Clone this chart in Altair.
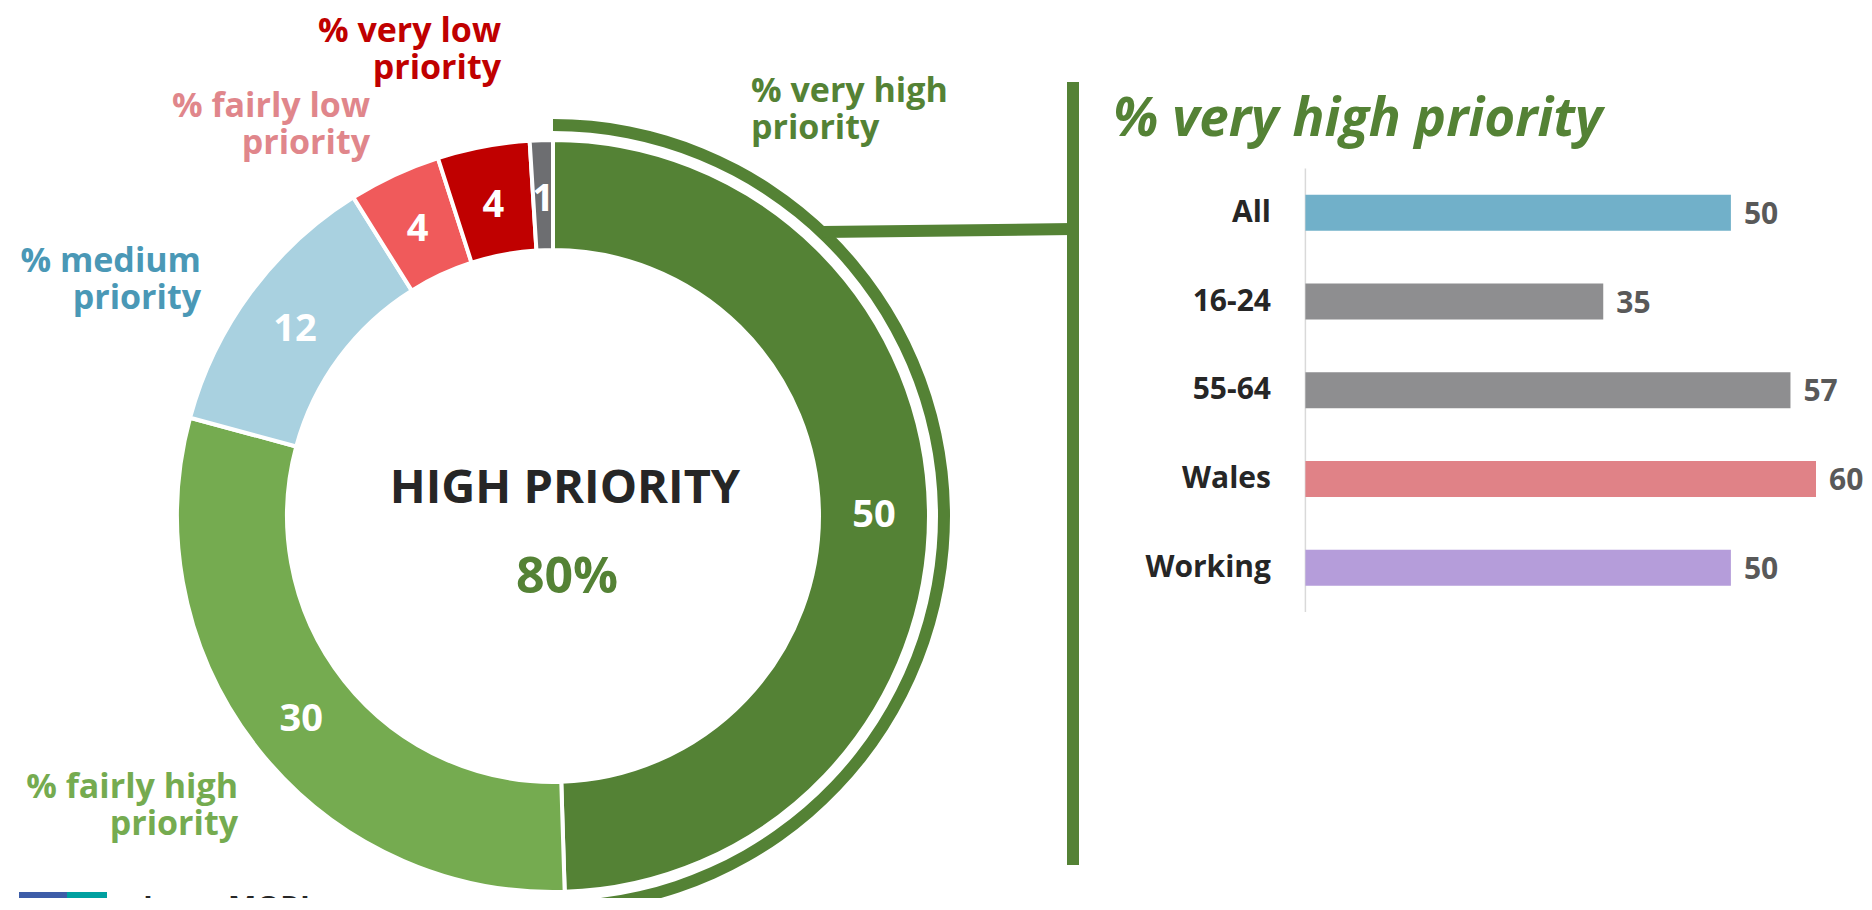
import altair as alt
import pandas as pd

FONT = "Open Sans"

# ---- donut data (clockwise from 12 o'clock) ----
seg_names = ["very high", "fairly high", "medium", "fairly low", "very low", "don't know"]
seg_values = [50, 30, 12, 4, 4, 1]
seg_colors = ["#548235", "#75AB50", "#A9D1E0", "#F05A5B", "#C00000", "#6D6E71"]
seg_highlight = ["#548235", "transparent", "transparent", "transparent", "transparent", "transparent"]

# ---- bar data ----
bar_groups = ["All", "16-24", "55-64", "Wales", "Working"]
bar_values = [50, 35, 57, 60, 50]
bar_colors = ["#71B0C9", "#8E8E90", "#8E8E90", "#E08287", "#B59DDA"]

# ---- texts ----
label_very_low = ["% very low", "priority"]
label_fairly_low = ["% fairly low", "priority"]
label_very_high = ["% very high", "priority"]
label_medium = ["% medium", "priority"]
label_fairly_high = ["% fairly high", "priority"]
center_title = "HIGH PRIORITY"
center_value = "80%"
panel_title = "% very high priority"
logo_text = "Ipsos MORI"

donut = pd.DataFrame({
    "name": seg_names,
    "value": seg_values,
    "color": seg_colors,
    "hl": seg_highlight,
    "rank": list(range(len(seg_names))),
})
bars = pd.DataFrame({"group": bar_groups, "value": bar_values, "color": bar_colors})
dummy = pd.DataFrame({"k": [0]})

CX, CY = 545, 508

theta = alt.Theta("value:Q", stack=True)
order = alt.Order("rank:Q")

ring = alt.Chart(donut).mark_arc(innerRadius=266, outerRadius=376, stroke="white", strokeWidth=4).encode(
    theta=theta, order=order, color=alt.Color("color:N", scale=None),
    x=alt.value(CX), y=alt.value(CY))

highlight = alt.Chart(donut).mark_arc(innerRadius=385, outerRadius=397).encode(
    theta=theta, order=order, color=alt.Color("hl:N", scale=None),
    x=alt.value(CX), y=alt.value(CY))

ring_text = alt.Chart(donut).mark_text(radius=321, font=FONT, fontWeight="bold", fontSize=38,
                                       color="white", baseline="middle", align="center", dy=5).encode(
    theta=theta, order=order, text=alt.Text("value:Q"),
    x=alt.value(CX), y=alt.value(CY))

xscale = alt.Scale(domain=[0, 60], range=[1297.4, 1808], nice=False, zero=True)
yscale = alt.Scale(domain=bar_groups, range=[160.5, 604], paddingInner=0.594, paddingOuter=0.297)

bar_layer = alt.Chart(bars).mark_bar().encode(
    x=alt.X("value:Q", scale=xscale, axis=None),
    y=alt.Y("group:N", scale=yscale, axis=None),
    color=alt.Color("color:N", scale=None))

bar_vals = alt.Chart(bars).mark_text(align="left", baseline="middle", dx=13, dy=2, font=FONT,
                                     fontWeight="bold", fontSize=30, color="#595959").encode(
    x=alt.X("value:Q", scale=xscale, axis=None),
    y=alt.Y("group:N", scale=yscale, axis=None),
    text=alt.Text("value:Q"))

bar_cats = alt.Chart(bars).mark_text(align="right", baseline="middle", font=FONT,
                                     fontWeight="bold", fontSize=30, color="#262626").encode(
    x=alt.value(1263),
    y=alt.Y("group:N", scale=yscale, axis=None),
    text=alt.Text("group:N"))

axis_line = alt.Chart(dummy).mark_rule(color="#D9D9D9", strokeWidth=1.5).encode(
    x=alt.value(1297.4), y=alt.value(160.5), y2=alt.value(604))

green_bar = alt.Chart(dummy).mark_rule(color="#548235", strokeWidth=12).encode(
    x=alt.value(1065), y=alt.value(74), y2=alt.value(857))
connector = alt.Chart(dummy).mark_rule(color="#548235", strokeWidth=12).encode(
    x=alt.value(814), y=alt.value(224), x2=alt.value(1065), y2=alt.value(221))


def note(lines, x, y, color, size, align="left", style="normal", lh=37):
    return alt.Chart(dummy).mark_text(
        text=lines, color=color, fontSize=size, font=FONT, fontWeight="bold",
        align=align, baseline="alphabetic", fontStyle=style, lineHeight=lh).encode(
        x=alt.value(x), y=alt.value(y))


notes = [
    note(label_very_low, 493, 34, "#C00000", 34, "right"),
    note(label_fairly_low, 362, 109, "#E0868B", 34, "right"),
    note(label_very_high, 743, 94, "#548235", 34, "left"),
    note(label_medium, 193, 264, "#4A98B6", 34, "right"),
    note(label_fairly_high, 230, 790, "#75AB50", 34, "right"),
    note(center_title, 557, 495, "#262626", 47, "center"),
    note(center_value, 559, 585, "#548235", 50, "center"),
    note(panel_title, 1105, 128, "#548235", 53, "left", style="italic"),
    note(logo_text, 135, 910, "#262626", 30, "left"),
]

logo_blue = alt.Chart(dummy).mark_rect(color="#3D5DA8").encode(
    x=alt.value(11), x2=alt.value(59), y=alt.value(884), y2=alt.value(940))
logo_teal = alt.Chart(dummy).mark_rect(color="#00A0A0").encode(
    x=alt.value(59), x2=alt.value(99), y=alt.value(884), y2=alt.value(940))

chart = alt.layer(
    highlight, ring, ring_text, connector, green_bar, axis_line, bar_layer, bar_vals, bar_cats,
    logo_blue, logo_teal, *notes
).properties(
    width=1856, height=890, padding=0, autosize=alt.AutoSizeParams(type="none")
).configure_view(stroke=None)

chart.save("out.html", embed_options={"renderer": "svg", "actions": False})
